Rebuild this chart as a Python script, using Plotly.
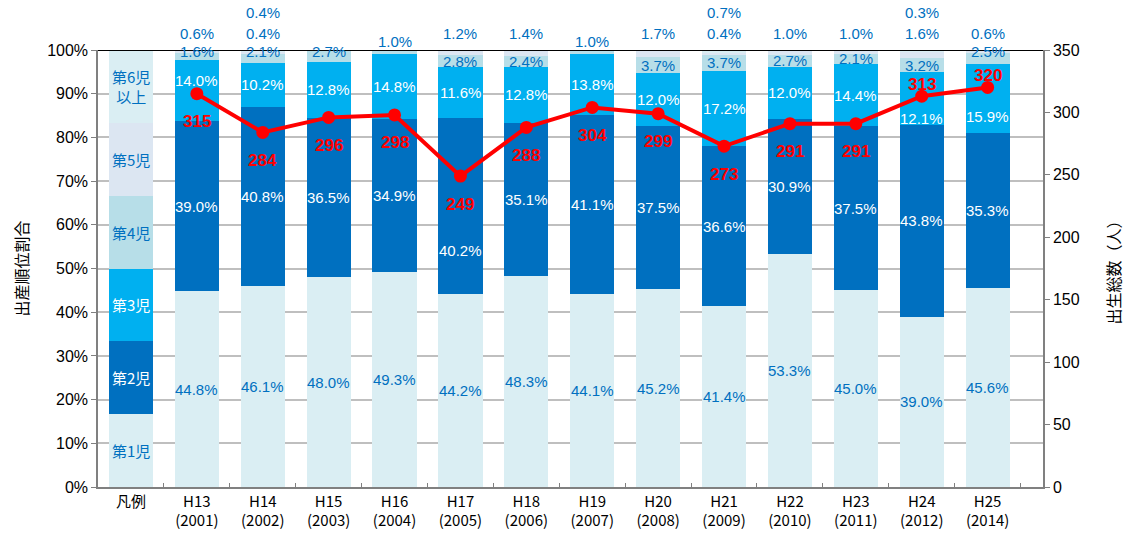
import plotly.graph_objects as go

# ---------------- data ----------------
legend_cat = "凡例"
years = ["H13<br>(2001)", "H14<br>(2002)", "H15<br>(2003)", "H16<br>(2004)", "H17<br>(2005)",
         "H18<br>(2006)", "H19<br>(2007)", "H20<br>(2008)", "H21<br>(2009)", "H22<br>(2010)",
         "H23<br>(2011)", "H24<br>(2012)", "H25<br>(2014)"]
order_names = ["第1児", "第2児", "第3児", "第4児", "第5児", "第6児<br>以上"]

first = [44.8, 46.1, 48.0, 49.3, 44.2, 48.3, 44.1, 45.2, 41.4, 53.3, 45.0, 39.0, 45.6]
second = [39.0, 40.8, 36.5, 34.9, 40.2, 35.1, 41.1, 37.5, 36.6, 30.9, 37.5, 43.8, 35.3]
third = [14.0, 10.2, 12.8, 14.8, 11.6, 12.8, 13.8, 12.0, 17.2, 12.0, 14.4, 12.1, 15.9]
fourth = [1.6, 2.1, 2.7, 1.0, 2.8, 2.4, 1.0, 3.7, 3.7, 2.7, 2.1, 3.2, 2.5]
fifth = [0.6, 0.4, 0.0, 0.0, 1.2, 1.4, 0.0, 1.7, 0.4, 1.0, 1.0, 1.6, 0.6]
sixth = [0.0, 0.4, 0.0, 0.0, 0.0, 0.0, 0.0, 0.0, 0.7, 0.0, 0.0, 0.3, 0.0]
births = [315, 284, 296, 298, 249, 288, 304, 299, 273, 291, 291, 313, 320]

# ---------------- style ----------------
colors = ["#DAEEF3", "#0070C0", "#00B0F0", "#B7DEE8", "#DCE6F2", "#DAEEF3"]
inner_text_colors = ["#0070C0", "#FFFFFF", "#FFFFFF", "#0070C0", "#0070C0", "#0070C0"]
blue = "#0070C0"
red = "#FF0000"
num_font = "Liberation Sans, Arial, sans-serif"
jp_font = "Noto Sans CJK JP, sans-serif"

series = [first, second, third, fourth, fifth, sixth]
cats = [legend_cat] + years
legend_seg = 100.0 / len(series)

fig = go.Figure()
for i, vals in enumerate(series):
    fig.add_trace(go.Bar(
        x=cats, y=[legend_seg] + vals, marker=dict(color=colors[i], line=dict(width=0)),
        width=0.67, showlegend=False, hoverinfo="skip", yaxis="y"))

fig.add_trace(go.Scatter(
    x=years, y=births, mode="lines+markers", yaxis="y2",
    line=dict(color=red, width=4), marker=dict(color=red, size=13),
    showlegend=False, hoverinfo="skip"))

ann = []
# legend bar labels
for i, name in enumerate(order_names):
    ann.append(dict(x=legend_cat, y=legend_seg * (i + 0.5), xref="x", yref="y", text=name,
                    showarrow=False, font=dict(family=jp_font, size=15, color=inner_text_colors[i])))

# manual shifts for labels moved to avoid overlap (px)
second_shift = {4: -44}
third_shift = {0: 10, 11: -20, 12: -18}

for j, cat in enumerate(years):
    base = 0.0
    for i in range(3):
        v = series[i][j]
        ys = 0
        if i == 1:
            ys = second_shift.get(j, 0)
        if i == 2:
            ys = third_shift.get(j, 0)
        ann.append(dict(x=cat, y=base + v / 2, xref="x", yref="y", text=f"{v:.1f}%",
                        showarrow=False, yshift=ys,
                        font=dict(family=num_font, size=15, color=inner_text_colors[i])))
        base += v
    # 4th
    v4 = fourth[j]
    c4 = base + v4 / 2
    if v4 < 1.5:
        ann.append(dict(x=cat, y=100, xref="x", yref="y", text=f"{v4:.1f}%", showarrow=False,
                        yanchor="bottom", yshift=-2, font=dict(family=num_font, size=15, color=blue)))
    else:
        ann.append(dict(x=cat, y=99.6 if c4 > 98 else c4, xref="x", yref="y", text=f"{v4:.1f}%",
                        showarrow=False, font=dict(family=num_font, size=15, color=blue)))
    if fifth[j] > 0:
        ann.append(dict(x=cat, y=100, xref="x", yref="y", text=f"{fifth[j]:.1f}%", showarrow=False,
                        yshift=17, font=dict(family=num_font, size=15, color=blue)))
    if sixth[j] > 0:
        ann.append(dict(x=cat, y=100, xref="x", yref="y", text=f"{sixth[j]:.1f}%", showarrow=False,
                        yshift=38, font=dict(family=num_font, size=15, color=blue)))
    # births label
    above = j >= 11
    ann.append(dict(x=cat, y=births[j], xref="x", yref="y2", text=f"<b>{births[j]}</b>",
                    showarrow=False, yshift=12 if above else -28,
                    font=dict(family=num_font, size=17, color=red)))

# axis titles
ann.append(dict(x=0, y=0.5, xref="paper", yref="paper", xanchor="center", yanchor="middle",
                xshift=-78, text="出産順位割合", textangle=-90, showarrow=False,
                font=dict(family=jp_font, size=16, color="#000000")))
ann.append(dict(x=1, y=0.5, xref="paper", yref="paper", xanchor="center", yanchor="middle",
                xshift=69, text="出生総数（人）", textangle=-90, showarrow=False,
                font=dict(family=jp_font, size=16, color="#000000")))

fig.update_layout(
    width=1129, height=551, barmode="stack", bargap=0.33,
    margin=dict(l=98, r=86, t=50, b=64),
    plot_bgcolor="#FFFFFF", paper_bgcolor="#FFFFFF",
    annotations=ann,
    xaxis=dict(type="category", categoryorder="array", categoryarray=cats,
               showline=True, linecolor="#808080", linewidth=1.5,
               ticks="inside", ticklen=4, tickcolor="#808080", tickson="boundaries",
               tickfont=dict(family="Liberation Sans Narrow, " + jp_font, size=15, color="#000000"),
               showgrid=False),
    yaxis=dict(range=[0, 100], dtick=10, ticksuffix="%", showgrid=True, gridcolor="#BFBFBF",
               gridwidth=1.5, showline=True, linecolor="#808080", linewidth=1.5,
               ticks="outside", ticklen=5, tickcolor="#808080", zeroline=False,
               tickfont=dict(family=num_font, size=16, color="#000000")),
    yaxis2=dict(range=[0, 350], dtick=50, overlaying="y", side="right", showgrid=False,
                showline=True, linecolor="#808080", linewidth=1.5, ticks="outside", ticklen=5,
                tickcolor="#808080", zeroline=False,
                tickfont=dict(family=num_font, size=16, color="#000000")),
)
fig.add_shape(type="line", xref="paper", yref="y", x0=0, x1=1, y0=100, y1=100,
              line=dict(color="#000000", width=2), layer="above")

fig.write_html("out.html", config={"displayModeBar": False},
               post_script="document.body.style.margin='0';document.body.style.overflow='hidden';")
